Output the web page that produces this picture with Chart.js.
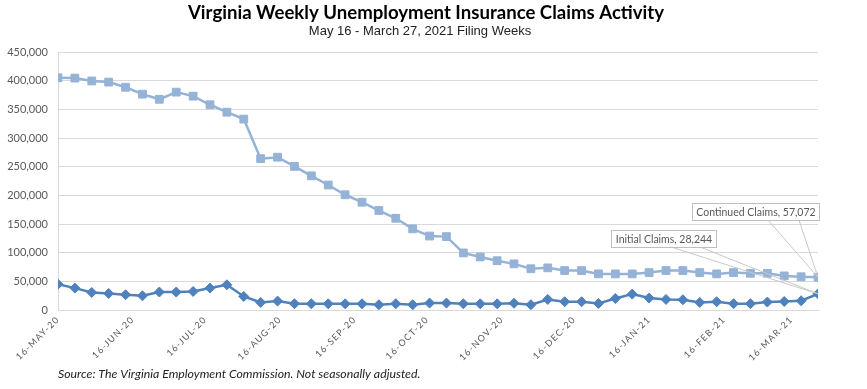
<!DOCTYPE html>
<html>
<head>
<meta charset="utf-8">
<script src="https://cdn.jsdelivr.net/npm/chart.js@4.4.1/dist/chart.umd.min.js"></script>
<style>
  html, body { margin: 0; padding: 0; background: #fff; }
  #wrap { width: 867px; height: 389px; }
</style>
</head>
<body>
<div id="wrap"><canvas id="claimsChart" width="867" height="389"></canvas></div>
<script>
// week-ending filing dates
const weeks = [
  "2020-05-16","2020-05-23","2020-05-30","2020-06-06","2020-06-13","2020-06-20","2020-06-27",
  "2020-07-04","2020-07-11","2020-07-18","2020-07-25","2020-08-01","2020-08-08","2020-08-15",
  "2020-08-22","2020-08-29","2020-09-05","2020-09-12","2020-09-19","2020-09-26","2020-10-03",
  "2020-10-10","2020-10-17","2020-10-24","2020-10-31","2020-11-07","2020-11-14","2020-11-21",
  "2020-11-28","2020-12-05","2020-12-12","2020-12-19","2020-12-26","2021-01-02","2021-01-09",
  "2021-01-16","2021-01-23","2021-01-30","2021-02-06","2021-02-13","2021-02-20","2021-02-27",
  "2021-03-06","2021-03-13","2021-03-20","2021-03-27"
];

const continuedClaims = [
  405000, 404500, 399500, 397500, 388500, 376500, 367500, 380000, 373000, 358000,
  345000, 333000, 264000, 266500, 250500, 234000, 218000, 201000, 188000, 173500,
  160000, 141500, 129000, 128000, 99500, 92500, 86000, 80500, 72000, 73500,
  68800, 68800, 63000, 63000, 63000, 65300, 68800, 68800, 65300, 63000,
  65300, 64000, 64000, 59500, 58000, 57072
];

const initialClaims = [
  45000, 38200, 30600, 28800, 26600, 24800, 31300, 31300, 32300, 38200,
  44000, 23600, 13200, 15500, 11000, 10800, 10800, 10800, 10800, 9200,
  11000, 9200, 12100, 12100, 10800, 10800, 10800, 11800, 9200, 18400,
  14400, 14400, 11500, 20100, 27700, 20800, 18400, 17900, 13200, 14400,
  11000, 11000, 13900, 14900, 16100, 28244
];

// monthly axis ticks
const tickDates = [
  "2020-05-16","2020-06-16","2020-07-16","2020-08-16","2020-09-16","2020-10-16",
  "2020-11-16","2020-12-16","2021-01-16","2021-02-16","2021-03-16"
];
const tickLabels = [
  "16-MAY-20","16-JUN-20","16-JUL-20","16-AUG-20","16-SEP-20","16-OCT-20",
  "16-NOV-20","16-DEC-20","16-JAN-21","16-FEB-21","16-MAR-21"
];

const DAY = 86400000;
const start = Date.parse(weeks[0]);
const toDay = (d) => Math.round((Date.parse(d) - start) / DAY);

const tickDays = tickDates.map(toDay);
const lastDay = toDay(weeks[weeks.length - 1]);

const fmt = (v) => v.toLocaleString("en-US");

const continuedColor = "#95B3D7";
const initialColor = "#4F81BD";

// title, subtitle, source note and the two end-point callouts
const decorPlugin = {
  id: "decor",
  afterDatasetsDraw(chart) {
    // spaced lettering for the date labels (drawn after datasets)
    chart.ctx.letterSpacing = "1.2px";
  },
  afterDraw(chart) {
    const ctx = chart.ctx;
    ctx.save();
    ctx.letterSpacing = "0px";

    ctx.fillStyle = "#000";
    ctx.textAlign = "center";
    ctx.textBaseline = "middle";
    ctx.font = "bold 18.6px Lato";
    ctx.fillText("Virginia Weekly Unemployment Insurance Claims Activity", 426, 13);
    ctx.font = "13px 'Liberation Sans Narrow', 'Arial Narrow', sans-serif";
    ctx.fillStyle = "#222";
    ctx.fillText("May 16 - March 27, 2021 Filing Weeks", 420, 31);

    ctx.textAlign = "left";
    ctx.font = "italic 12.3px Lato";
    ctx.fillStyle = "#222";
    ctx.fillText("Source: The Virginia Employment Commission. Not seasonally adjusted.", 58, 374);

    const callouts = [
      { ds: 1, text: "Continued Claims, " + fmt(continuedClaims[continuedClaims.length - 1]),
        box: [692, 203, 127, 17], legs: [768, 799] },
      { ds: 0, text: "Initial Claims, " + fmt(initialClaims[initialClaims.length - 1]),
        box: [611, 230, 105, 17], legs: [671, 700] }
    ];
    ctx.font = "10.5px Lato";
    for (const c of callouts) {
      const meta = chart.getDatasetMeta(c.ds);
      const pt = meta.data[meta.data.length - 1];
      const [bx, by, bw, bh] = c.box;
      ctx.strokeStyle = "#C8C8C8";
      ctx.lineWidth = 1;
      ctx.beginPath();
      ctx.moveTo(c.legs[0], by + bh);
      ctx.lineTo(pt.x, pt.y);
      ctx.lineTo(c.legs[1], by + bh);
      ctx.stroke();
      ctx.fillStyle = "#fff";
      ctx.fillRect(bx, by, bw, bh);
      ctx.strokeStyle = "#BFBFBF";
      ctx.strokeRect(bx + 0.5, by + 0.5, bw, bh);
      ctx.fillStyle = "#595959";
      ctx.textAlign = "center";
      ctx.fillText(c.text, bx + bw / 2 + 0.5, by + bh / 2 + 1);
    }
    ctx.restore();
  }
};

const ctx = document.getElementById("claimsChart").getContext("2d");
new Chart(ctx, {
  type: "line",
  data: {
    datasets: [
      {
        label: "Initial Claims",
        data: initialClaims.map((v, i) => ({ x: toDay(weeks[i]), y: v })),
        borderColor: initialColor,
        backgroundColor: initialColor,
        borderWidth: 2.5,
        pointStyle: "rectRot",
        pointRadius: 5,
        pointBorderWidth: 1,
        tension: 0
      },
      {
        label: "Continued Claims",
        data: continuedClaims.map((v, i) => ({ x: toDay(weeks[i]), y: v })),
        borderColor: continuedColor,
        backgroundColor: continuedColor,
        borderWidth: 2.5,
        pointStyle: "rect",
        pointRadius: 5.5,
        pointBorderWidth: 1,
        tension: 0
      }
    ]
  },
  options: {
    responsive: false,
    animation: false,
    devicePixelRatio: 1,
    layout: { padding: { top: 52, right: 49, left: 0, bottom: 0 } },
    plugins: {
      legend: { display: false },
      tooltip: { enabled: false },
      title: { display: false }
    },
    scales: {
      x: {
        type: "linear",
        min: 0,
        max: lastDay,
        afterBuildTicks: (s) => { s.ticks = tickDays.map((v) => ({ value: v })); },
        afterFit: (s) => { s.height = 79; s.paddingLeft = 0; s.paddingRight = 0; },
        ticks: {
          z: 1,
          autoSkip: false,
          minRotation: 45,
          maxRotation: 45,
          padding: 4,
          color: "#595959",
          font: { family: "Lato", size: 9 },
          callback: (v, i) => tickLabels[i]
        },
        grid: { display: false, drawTicks: false },
        border: { display: true, color: "#D9D9D9" }
      },
      y: {
        min: 0,
        max: 450000,
        afterFit: (s) => { s.width = 58; s.paddingTop = 0; s.paddingBottom = 0; },
        ticks: {
          stepSize: 50000,
          padding: 10,
          color: "#595959",
          font: { family: "Lato", size: 11 },
          callback: (v) => fmt(v)
        },
        grid: { color: "#D9D9D9", drawTicks: false },
        border: { display: true, color: "#D9D9D9" }
      }
    }
  },
  plugins: [decorPlugin]
});
</script>
</body>
</html>
